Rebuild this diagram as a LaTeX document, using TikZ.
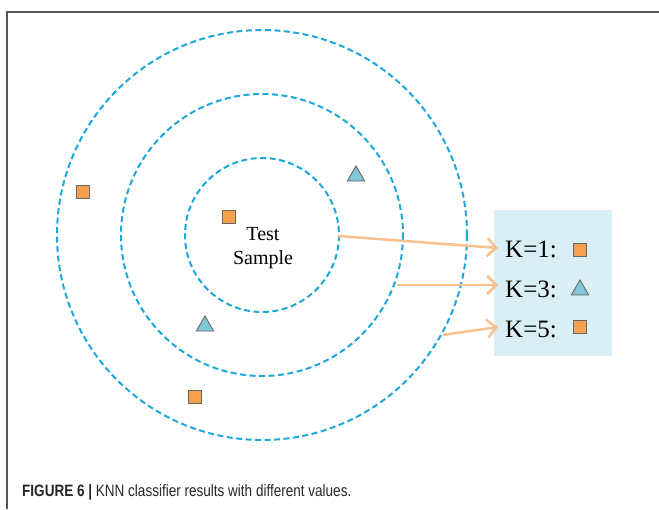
\documentclass[tikz,border=0pt]{standalone}
\usepackage{fontspec}
\setmainfont{Liberation Serif}
\setsansfont{Liberation Sans}
\usetikzlibrary{arrows.meta,shapes.geometric}
\definecolor{ring}{HTML}{1CA8D8}
\definecolor{arr}{HTML}{F8C08E}
\definecolor{sq}{HTML}{F7A04E}
\definecolor{tri}{HTML}{80C8D8}
\definecolor{legbg}{HTML}{DAEEF5}
\definecolor{frame}{HTML}{555555}
\tikzset{
  ringline/.style={ring, line width=2pt, dash pattern=on 6pt off 3.5pt},
  sqmark/.style={draw=black!60, fill=sq, line width=0.9pt, minimum size=13pt, inner sep=0pt},
  trimark/.style={regular polygon, regular polygon sides=3, draw=black!60, fill=tri, line width=0.9pt, minimum size=20pt, inner sep=0pt},
  arrline/.style={arr, line width=2.5pt, -{Straight Barb[length=9pt,width=18pt,line width=2.5pt]}},
  klabel/.style={font=\fontsize{25}{27}\selectfont, anchor=west, inner sep=0pt}
}
\begin{document}
\begin{tikzpicture}[x=1pt,y=-1pt]
\useasboundingbox (0,0) rectangle (659,509);
\draw[frame, line width=1.2pt] (7,509) -- (7,12) -- (659,12);
\coordinate (c) at (262,235);
\draw[ringline] (c) circle[radius=205];
\draw[ringline] (c) circle[radius=141];
\draw[ringline] (c) circle[radius=77];
\node[sqmark] (p1) at (83,192) {};
\node[sqmark] (p2) at (229,217) {};
\node[trimark] (p3) at (356,176) {};
\node[trimark] (p4) at (205,326) {};
\node[sqmark] (p5) at (195,397) {};
\node[font=\fontsize{20}{24}\selectfont, align=center] (ts) at (263,248) {Test\\Sample};
\node[fill=legbg, minimum width=118pt, minimum height=146pt, inner sep=0pt, anchor=north west] (leg) at (494,210) {};
\node[klabel] (k1) at (505,249) {K=1:};
\node[klabel] (k3) at (505,289) {K=3:};
\node[klabel] (k5) at (505,329) {K=5:};
\node[sqmark] (l1) at (580,250) {};
\node[trimark] (l3) at (580,290) {};
\node[sqmark] (l5) at (580,327) {};
\coordinate (a1s) at (338,236);
\coordinate (a1e) at (498,248);
\coordinate (a3s) at (397,285);
\coordinate (a3e) at (498,285);
\coordinate (a5s) at (443,335);
\coordinate (a5e) at (498,327);
\draw[arrline] (a1s) -- (a1e);
\draw[arrline] (a3s) -- (a3e);
\draw[arrline] (a5s) -- (a5e);
\node[font=\sffamily\fontsize{16.5}{18}\selectfont, anchor=west, inner sep=0pt, text=black!85] (cap) at (22,492) {\scalebox{0.82}[1]{\textbf{FIGURE 6 |} KNN classifier results with different values.}};
\end{tikzpicture}
\end{document}
